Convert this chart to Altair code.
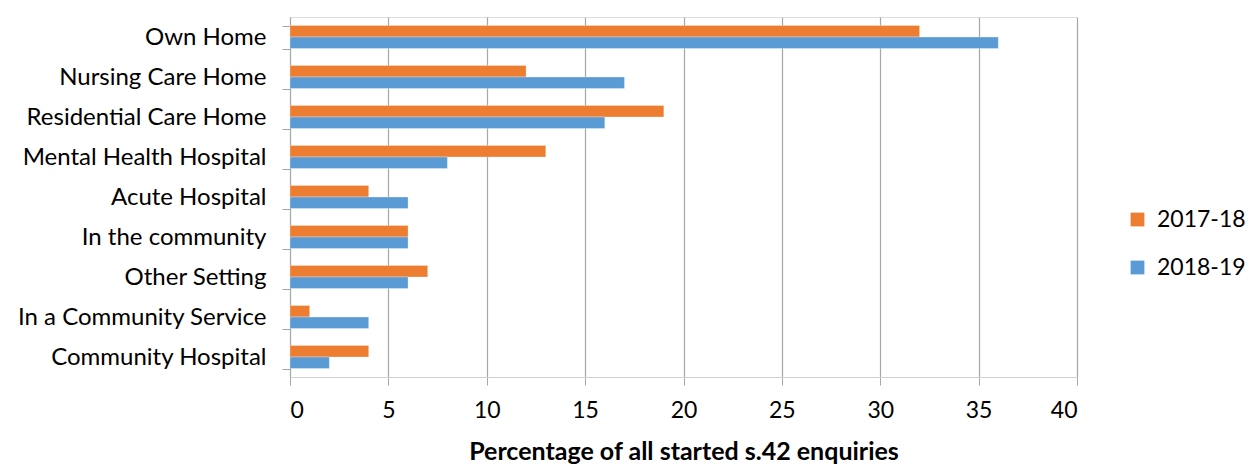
import altair as alt
import pandas as pd

# Settings where s.42 enquiries were started, percentage of all enquiries
settings = [
    "Own Home",
    "Nursing Care Home",
    "Residential Care Home",
    "Mental Health Hospital",
    "Acute Hospital",
    "In the community",
    "Other Setting",
    "In a Community Service",
    "Community Hospital",
]
pct_2017_18 = [32, 12, 19, 13, 4, 6, 7, 1, 4]
pct_2018_19 = [36, 17, 16, 8, 6, 6, 6, 4, 2]
years = ["2017-18", "2018-19"]
colors = ["#ED7D31", "#5B9BD5"]

rows = []
for s, a, b in zip(settings, pct_2017_18, pct_2018_19):
    rows.append({"setting": s, "year": years[0], "pct": a})
    rows.append({"setting": s, "year": years[1], "pct": b})
df = pd.DataFrame(rows)

FONT = "Lato"
GRID = "#a6a6a6"

chart = (
    alt.Chart(df)
    .mark_bar(stroke="#ffffff", strokeOpacity=0.5, strokeWidth=0.6)
    .encode(
        x=alt.X(
            "pct:Q",
            scale=alt.Scale(domain=[0, 40], nice=False),
            axis=alt.Axis(
                values=list(range(0, 41, 5)),
                title="Percentage of all started s.42 enquiries",
                titleFont=FONT,
                titleFontSize=25,
                titleFontWeight="bold",
                titleColor="#000000",
                titlePadding=17,
                labelFont=FONT,
                labelFontSize=23,
                labelColor="#000000",
                labelPadding=14,
                grid=True,
                gridColor=GRID,
                gridWidth=1.2,
                tickColor=GRID,
                tickSize=8,
                domainColor="#d0d0d0",
            ),
        ),
        y=alt.Y(
            "setting:N",
            sort=settings,
            scale=alt.Scale(paddingInner=0.425, paddingOuter=0.2125),
            axis=alt.Axis(
                title=None,
                labelFont=FONT,
                labelFontSize=24,
                labelColor="#000000",
                labelPadding=16,
                labelLimit=320,
                tickBand="extent",
                tickColor=GRID,
                tickSize=8,
                domainColor=GRID,
                grid=False,
            ),
        ),
        yOffset=alt.YOffset("year:N", sort=years, scale=alt.Scale(paddingInner=0)),
        color=alt.Color(
            "year:N",
            sort=years,
            scale=alt.Scale(domain=years, range=colors),
            legend=alt.Legend(
                title=None,
                orient="none",
                legendX=836,
                legendY=191,
                symbolType="square",
                symbolSize=190,
                symbolStrokeWidth=0,
                labelFont=FONT,
                labelFontSize=23,
                labelColor="#000000",
                rowPadding=24,
                labelOffset=8,
            ),
        ),
    )
    .properties(
        width=787,
        height=360,
        padding={"left": 290, "top": 17, "right": 176, "bottom": 89},
        autosize=alt.AutoSizeParams(type="none"),
    )
    .configure_view(strokeWidth=0, strokeOpacity=0)
    .configure(background="#ffffff")
)

chart.save("out.html", embed_options={"renderer": "svg", "actions": False})
